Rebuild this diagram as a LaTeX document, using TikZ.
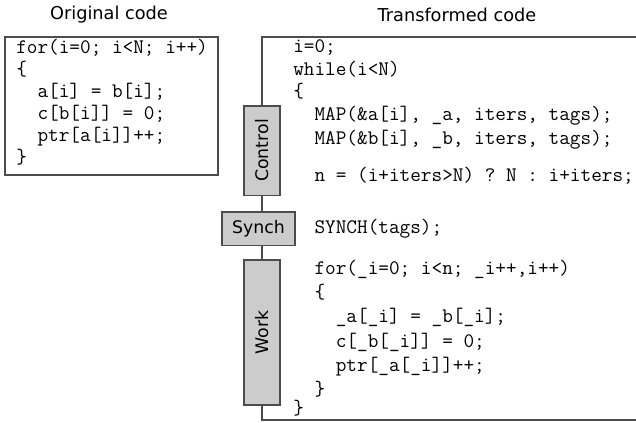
\documentclass[tikz,border=0pt]{standalone}
\usepackage{fontspec}
\setmainfont{DejaVu Sans}
\begin{document}
\begin{tikzpicture}[x=0.75pt,y=-0.75pt,
  frame/.style={draw=black!70,line width=0.9pt},
  code/.style={anchor=base west,inner sep=0pt,font=\ttfamily\fontsize{15.5pt}{17pt}\selectfont},
  head/.style={inner sep=0pt,font=\fontsize{13.3pt}{15pt}\selectfont},
  phasebox/.style={fill=black!20,draw=black!70,line width=0.9pt},
  phaselabel/.style={inner sep=0pt,font=\fontsize{13pt}{15pt}\selectfont}]
\useasboundingbox (0,0) rectangle (636,422);
% headings
\node[head] (h1) at (109,15) {Original code};
\node[head] (h2) at (457,15) {Transformed code};
% original box
\draw[frame] (5,37) rectangle (218,175);
\node[code] (o1) at (16,53) {for(i=0; i<N; i++)};
\node[code] (o2) at (16,75) {\{};
\node[code] (o3) at (16,97) {\ \ a[i] = b[i];};
\node[code] (o4) at (16,119) {\ \ c[b[i]] = 0;};
\node[code] (o5) at (16,141) {\ \ ptr[a[i]]++;};
\node[code] (o6) at (16,163) {\}};
% transformed frame
\coordinate (tl) at (262,37);
\coordinate (tr) at (637,37);
\coordinate (bl) at (262,420);
\coordinate (br) at (637,420);
\draw[frame] (tr) -- (tl) -- (bl) -- (br);
% phases
\path[phasebox] (244,106) rectangle (280,195.5);
\node[phaselabel,rotate=90] (ctrlt) at (262,150.5) {Control};
\path[phasebox] (222,212) rectangle (295,245.5);
\node[phaselabel] (synt) at (258.5,229) {Synch};
\path[phasebox] (244,260) rectangle (280,405);
\node[phaselabel,rotate=90] (workt) at (262,332.5) {Work};
% transformed code
\node[code] (t1) at (293,52) {i=0;};
\node[code] (t2) at (293,75) {while(i<N)};
\node[code] (t3) at (293,97) {\{};
\node[code] (t4) at (293,120) {\ \ MAP(\&a[i], \_a, iters, tags);};
\node[code] (t5) at (293,144) {\ \ MAP(\&b[i], \_b, iters, tags);};
\node[code] (t6) at (293,181) {\ \ n = (i+iters>N) ? N : i+iters;};
\node[code] (t7) at (293,233) {\ \ SYNCH(tags);};
\node[code] (t8) at (293,274) {\ \ for(\_i=0; i<n; \_i++,i++)};
\node[code] (t9) at (293,298) {\ \ \{};
\node[code] (t10) at (293,322) {\ \ \ \ \_a[\_i] = \_b[\_i];};
\node[code] (t11) at (293,347) {\ \ \ \ c[\_b[\_i]] = 0;};
\node[code] (t12) at (293,371) {\ \ \ \ ptr[\_a[\_i]]++;};
\node[code] (t13) at (293,395) {\ \ \}};
\node[code] (t14) at (293,414) {\}};
\end{tikzpicture}
\end{document}
